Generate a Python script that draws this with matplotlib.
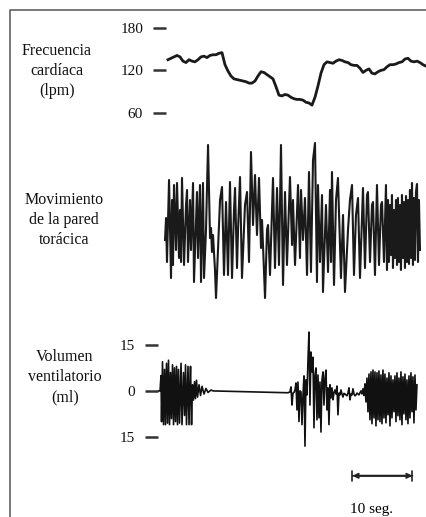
import numpy as np
import matplotlib
matplotlib.use("Agg")
import matplotlib.pyplot as plt
from matplotlib.lines import Line2D

plt.rcParams['font.family'] = ['Liberation Serif', 'DejaVu Serif']

# Frecuencia cardiaca (lpm), una muestra cada 0.5 s
hr_dt = 0.5
hr = [135, 137, 139, 141, 139, 133, 131, 135, 133, 132, 135, 139, 140, 138, 141,
      142, 142, 144, 145, 128, 119, 112, 108, 107, 106, 105, 104, 102, 102, 105,
      112, 118, 117, 114, 111, 108, 97, 85, 84, 86, 85, 82, 80, 79, 79,
      78, 75, 74, 71, 82, 98, 116, 128, 132, 131, 130, 133, 135, 134, 132,
      131, 128, 127, 127, 123, 117, 120, 122, 116, 115, 118, 120, 121, 125, 128,
      128, 129, 131, 132, 136, 137, 133, 132, 133, 131, 128, 126]

# Movimiento de la pared toracica (unidades arbitrarias)
chest_t = [-0.5, -0.33, -0.17, 0.17, 0.5, 0.67, 0.83, 1.0, 1.33, 1.5, 1.83, 2.0, 2.17, 2.33,
           2.67, 3.0, 3.17, 3.33, 3.67, 3.83, 4.17, 4.33, 4.67, 4.83, 5.0, 5.33, 5.5, 5.83,
           6.0, 6.33, 6.67, 7.0, 7.17, 7.33, 7.5, 7.83, 8.0, 8.33, 8.67, 9.0, 9.33, 9.67,
           10.0, 10.33, 10.67, 11.0, 11.17, 11.5, 11.67, 12.0, 12.33, 12.83, 13.17, 13.5,
           13.83, 14.17, 14.5, 14.83, 15.17, 15.5, 15.67, 16.17, 16.5, 16.67, 17.0, 17.5,
           17.83, 18.17, 18.5, 18.83, 19.17, 19.5, 19.83, 20.33, 20.67, 20.83, 21.17, 21.67,
           22.0, 22.17, 22.5, 22.83, 23.17, 23.5, 23.83, 24.17, 24.5, 24.83, 25.0, 25.33,
           25.67, 25.83, 26.33, 26.67, 27.0, 27.17, 27.33, 27.67, 28.0, 28.33, 28.83, 29.17,
           29.5, 30.0, 30.33, 30.67, 31.0, 31.33, 31.67, 32.0, 32.33, 32.5, 32.83, 33.17,
           33.33, 33.67, 34.0, 34.17, 34.5, 34.83, 35.17, 35.5, 35.67, 36.0, 36.33, 36.5,
           36.67, 36.83, 37.0, 37.17, 37.33, 37.5, 37.67, 37.83, 38.0, 38.17, 38.33, 38.5,
           38.67, 38.83, 39.0, 39.17, 39.33, 39.5, 39.67, 39.83, 40.0, 40.17, 40.33, 40.5,
           40.67, 40.83, 41.0, 41.17, 41.33, 41.5, 41.67, 41.83, 42.0]
chest = [-1.8, 0.4, -4.0, 4.2, -5.6, 2.2, -4.3, 3.7, -2.8, 3.9, -3.6, 1.2, -4.0, 4.4,
         -4.3, 1.7, 3.2, -4.0, 2.2, -2.8, 3.9, -6.0, 0.2, 3.0, -3.6, 3.7, -6.0, 3.9,
         -5.6, -0.8, 7.7, -1.6, -0.6, -3.0, -1.3, -4.8, -7.6, -2.8, 2.2, 3.5, -5.3, 2.0,
         -5.3, 4.0, -5.6, 1.2, 3.4, -4.6, -0.8, 4.5, -5.6, 1.7, 3.0, -4.0,
         7.0, -0.3, 4.7, -1.3, 4.4, -2.6, 0.2, -7.6, -0.8, -0.3, -5.3, 4.4,
         -4.6, 3.4, -4.3, 7.7, -6.3, 3.0, -4.3, 4.5, -2.3, 2.2, -4.3, 3.7,
         -3.6, 3.2, -1.8, 2.4, -5.3, 5.0, -5.0, 6.2, 7.9, -6.0, 3.7, -4.0,
         2.7, -7.0, 1.7, -5.0, 3.2, -4.0, 5.0, -6.3, 2.2, 4.4, -5.6, 0.7,
         -7.0, -0.8, 2.2, 3.7, -5.3, 0.7, 2.4, -5.6, 0.2, 3.4, -4.6, 2.7,
         3.0, -4.0, 1.7, 2.0, -5.3, 3.7, -4.3, 1.7, 2.0, -4.0, 3.7, -4.8,
         2.2, -4.0, 1.7, -3.3, 2.7, -4.6, 1.2, -3.6, 2.2, -4.3, 2.4, -4.0,
         1.7, -4.8, 2.7, -3.6, 2.0, -4.6, 2.6, -4.0, 2.2, -4.2, 3.2, -3.6,
         3.9, -4.3, 2.4, -3.8, 3.0, 3.8, -4.0, 2.2, -2.8]

# Volumen ventilatorio (ml): primera rafaga y pausa
vol1_t = [-1.67, -1.33, -1.17, -1.08, -0.92, -0.75, -0.58, -0.42, -0.25, -0.08, 0.08,
          0.25, 0.42, 0.58, 0.75, 0.92, 1.08, 1.25, 1.42, 1.58, 1.75, 1.92, 2.17, 2.33,
          2.58, 2.75, 2.92, 3.08, 3.33, 3.5, 3.67, 3.75, 3.92, 4.08, 4.25, 4.42, 4.58,
          4.75, 4.92, 5.17, 5.42, 5.67, 6.0, 6.33, 6.67, 7.17, 7.5, 13.67, 20.0]
vol1 = [0, 0, 5, -10, 9.5, -11, 7, -11, 9, -10.5, 10,
        -11, 6, -9, 8.5, -11, 7.5, -10, 8, -11, 7, -10.5, 9, -11,
        6, -8, 8.5, -11, 8, -11, 3, 8, -11, 2, -3, 3, -2.5,
        3.5, -2, 2, -1.5, 1.5, -1, 0.8, -0.5, 0.3, 0, -0.3, -0.6]
# segunda parte, una muestra cada 1/6 s desde t = 20.33 s
vol2_t0 = 20.33
vol2_dt = 1 / 6
vol2 = [-0.3, 1.3, -4.6, -0.7, -0.5, 0.3, 2.6, -6.2, 2.9, -10, 0, -0.3, -11, -1.3,
        4.9, -18, 3.6, -1.3, 10, 19.2, -4.6, 12.7, 6.2, 11, -12, 5.2, 7.5, -9.4,
        5.2, -8.8, 2.9, -13.4, 3.6, 6.2, -4.6, 4.2, 6.8, -6.2, 1, -11, 2, -2.3,
        1, -2.9, -0.5, 0.3, -1, 1.6, -7.8, -0.7, -1.3, 0.3, -1, -2, -0.8, -1,
        -1.3, -1.6, -0.7, 1, -2.9, -1, -1.3, 0.7, -1, -1.6, -1.3, -0.7, -1, -1.3,
        -0.6, 0, -1, 0.7, -1.5, 2.3, -3.6, 4.2, -6.8, 5.5, -9.4, 6.2, -10.7, 6.8,
        -8.8, 6.2, -11.4, 5.9, -9.4, 6.5, -10, 5.2, -10.7, 6.8, -8.8, 5.5, -10.4, 4.2,
        -7.8, 5.9, -11.4, 4.9, -8.8, 3.6, -6.8, 4.9, -10, 5.9, -8.1, 4.2, -9.4, 6.2,
        -11, 4.6, -7.5, 5.5, -9.4, 3.6, -10.7, 4.9, -8.8, 5.9, -6.8, 4.6, -10.4, 5.2,
        -6.2, 2]

hr_ticks = [60, 120, 180]
vol_ticks = [-15, 0, 15]
vol_tick_labels = ['15', '0', '15']
scale_bar = (30.75, 40.75)

W, H = 427, 517
fig = plt.figure(figsize=(W / 100, H / 100), dpi=100)

def box(left, top, right, bottom):
    return [left / W, 1 - bottom / H, (right - left) / W, (bottom - top) / H]

ax_hr = fig.add_axes(box(166, 20, 427, 120))
ax_ch = fig.add_axes(box(158, 140, 427, 300))
ax_vo = fig.add_axes(box(158, 325, 427, 455))

hr_t = np.arange(len(hr)) * hr_dt
ax_hr.plot(hr_t, hr, color='#1a1a1a', lw=2.0, solid_joinstyle='round')
ax_hr.set_xlim(-0.33, 43.17)
ax_hr.set_ylim(50, 191)
ax_hr.set_yticks(hr_ticks)

ax_ch.plot(chest_t, chest, color='#1a1a1a', lw=1.5)
ax_ch.set_xlim(-1.67, 43.17)
ax_ch.set_ylim(-7.8, 8.2)
ax_ch.set_yticks([])

vol2_t = vol2_t0 + np.arange(len(vol2)) * vol2_dt
vol_t = np.concatenate([vol1_t, vol2_t])
vol = np.concatenate([vol1, vol2])
ax_vo.plot(vol_t, vol, color='#111111', lw=1.2)
ax_vo.set_xlim(-1.67, 43.17)
ax_vo.set_ylim(-20.9, 21.5)
ax_vo.set_yticks(vol_ticks)
ax_vo.set_yticklabels(vol_tick_labels)

for ax in (ax_hr, ax_ch, ax_vo):
    for s in ax.spines.values():
        s.set_visible(False)
    ax.set_xticks([])
    ax.patch.set_alpha(0)
    ax.tick_params(axis='y', length=9.5, width=1.8, color='#333333', pad=7,
                   labelsize=11, labelcolor='#111111')

# barra de escala
bar_kw = dict(xycoords=('data', 'axes fraction'), textcoords=('data', 'axes fraction'))
ax_vo.annotate('', xy=(scale_bar[0], -0.16), xytext=(scale_bar[1], -0.16),
               arrowprops=dict(arrowstyle='<->', color='#222222', lw=1.5,
                               mutation_scale=7, shrinkA=0, shrinkB=0), **bar_kw)
ax_vo.annotate('', xy=(scale_bar[0], -0.16), xytext=(scale_bar[1], -0.16),
               arrowprops=dict(arrowstyle='|-|, widthA=0.35, widthB=0.35', color='#222222',
                               lw=1.2, shrinkA=0, shrinkB=0), **bar_kw)
fig.text(372 / W, 1 - 510 / H, '10 seg.', ha='center', va='center', fontsize=11)

label_kw = dict(ha='center', va='center', fontsize=11.5, linespacing=1.35,
                multialignment='center', color='#111111')
fig.text(57 / W, 1 - 71 / H, 'Frecuencia\ncardíaca\n(lpm)', **label_kw)
fig.text(64 / W, 1 - 220 / H, 'Movimiento\nde la pared\ntorácica', **label_kw)
fig.text(65 / W, 1 - 377 / H, 'Volumen\nventilatorio\n(ml)', **label_kw)

# marco
fig.add_artist(Line2D([10 / W, 10 / W, 1], [0, 1 - 10 / H, 1 - 10 / H],
                      transform=fig.transFigure, color='#555555', lw=1.1))

fig.savefig('out.png', dpi=100)
